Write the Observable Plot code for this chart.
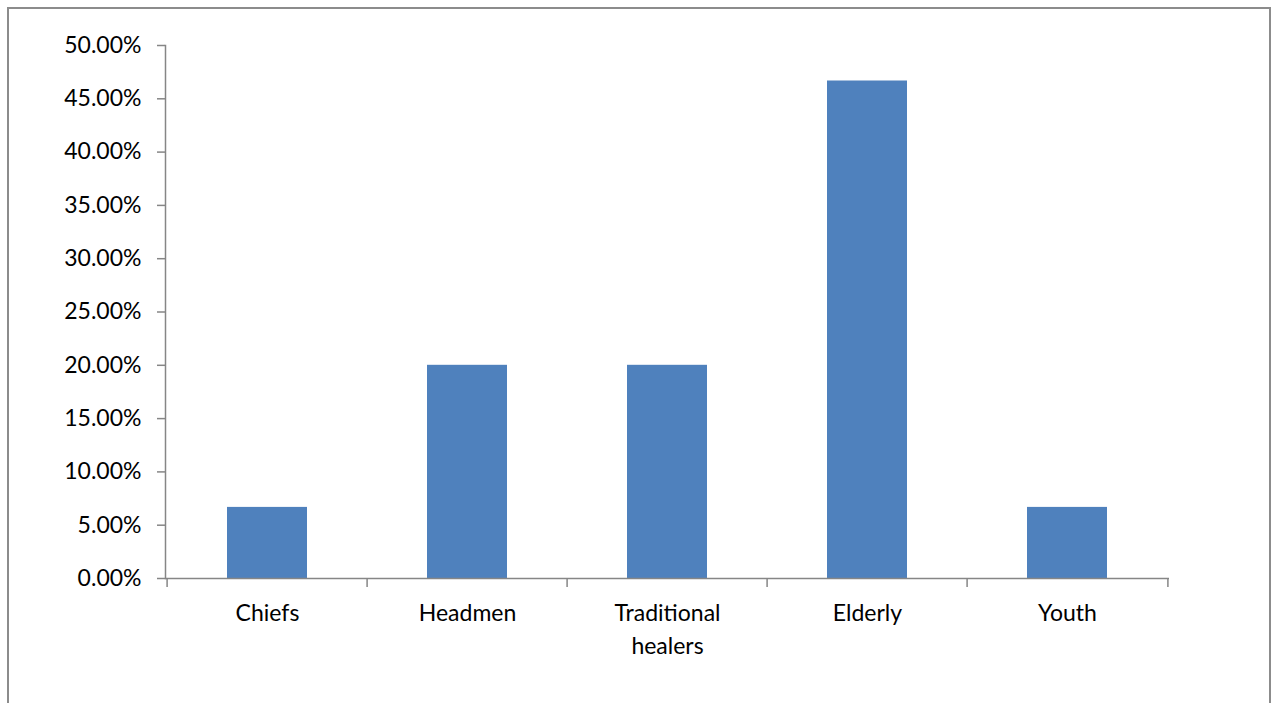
<!DOCTYPE html>
<html>
<head>
<meta charset="utf-8">
<script src="https://cdn.jsdelivr.net/npm/d3@7"></script>
<script src="https://cdn.jsdelivr.net/npm/@observablehq/plot@0.6"></script>
<style>
  html, body { margin: 0; padding: 0; background: #fff; overflow: hidden; }
  #wrap { position: relative; width: 1277px; height: 703px; }
  #frame { position: absolute; left: 7px; top: 7px; width: 1264px; height: 720px; border: 2px solid #8c8c8c; box-sizing: border-box; }
  #chart { position: absolute; left: 0; top: 0; }
</style>
</head>
<body>
<div id="wrap"><div id="frame"></div><div id="chart"></div></div>
<script>
const categories = ["Chiefs", "Headmen", "Traditional\nhealers", "Elderly", "Youth"];
const values = [0.0667, 0.20, 0.20, 0.4667, 0.0667];
const yTicks = [0, 0.05, 0.10, 0.15, 0.20, 0.25, 0.30, 0.35, 0.40, 0.45, 0.50];

const data = categories.map((c, i) => ({category: c, value: values[i]}));
const axisColor = "#868686";
const step = (1277 - 165 - 108) / categories.length;

const chart = Plot.plot({
  width: 1277,
  height: 703,
  marginLeft: 165,
  marginRight: 108,
  marginTop: 45,
  marginBottom: 125,
  style: {fontFamily: "Lato, 'Open Sans', sans-serif", fontSize: "23px", color: "#000", background: "transparent"},
  x: {domain: categories, paddingInner: 0.6, paddingOuter: 0.3},
  y: {domain: [0, 0.5]},
  marks: [
    Plot.barY(data, {x: "category", y: "value", fill: "#4f81bd"}),
    Plot.axisY({ticks: yTicks, tickFormat: d3.format(".2%"), tickSize: 8, tickPadding: 16, stroke: axisColor, strokeWidth: 1.5, label: null, fontSize: 23, fill: "#000"}),
    Plot.axisX({tickSize: 0, tickPadding: 19, label: null, fontSize: 23, lineHeight: 1.43, fill: "#000"}),
    Plot.frame({anchor: "left", stroke: axisColor, strokeWidth: 1.5}),
    Plot.ruleY([0], {stroke: axisColor, strokeWidth: 1.5}),
    Plot.ruleX(categories, {x: d => d, y1: 0, y2: 0, insetBottom: -9, dx: -step / 2, stroke: axisColor, strokeWidth: 1.5}),
    Plot.ruleX(categories.slice(-1), {x: d => d, y1: 0, y2: 0, insetBottom: -9, dx: step / 2, stroke: axisColor, strokeWidth: 1.5})
  ]
});
document.getElementById("chart").appendChild(chart);
</script>
</body>
</html>
